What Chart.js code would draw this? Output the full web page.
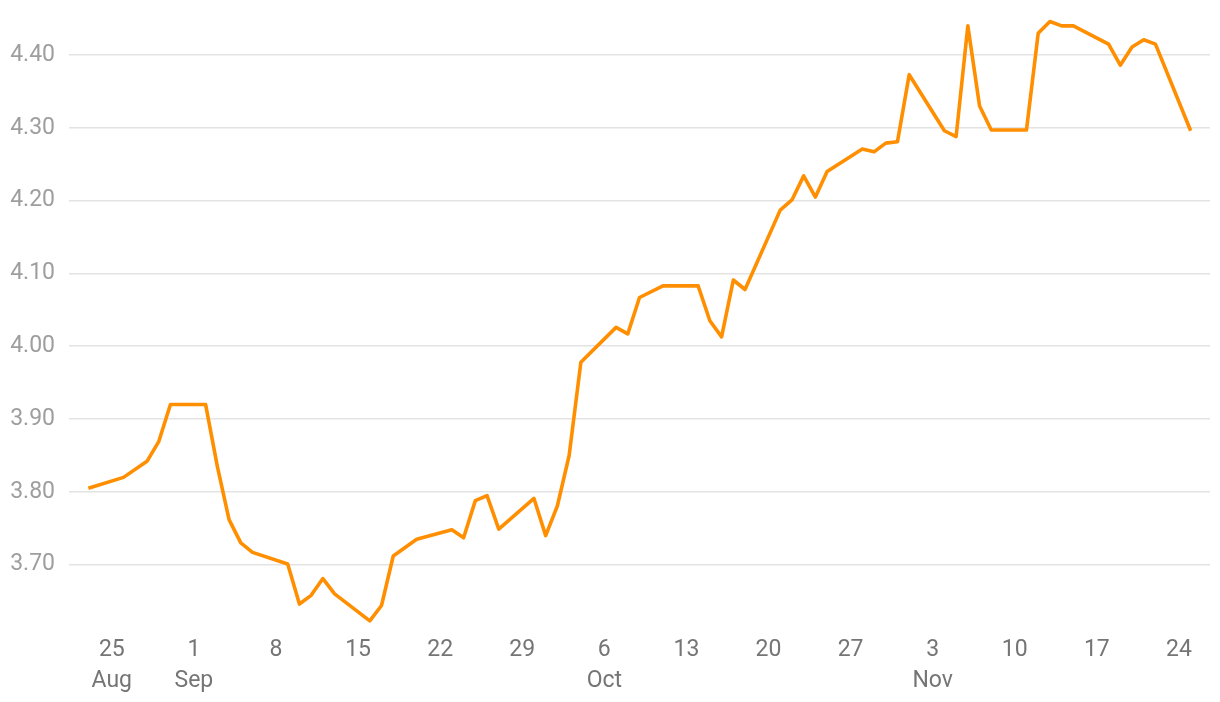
<!DOCTYPE html>
<html>
<head>
<meta charset="utf-8">
<script src="https://cdn.jsdelivr.net/npm/chart.js@4"></script>
<style>
  html, body { margin: 0; padding: 0; background: #fff; }
  #wrap { width: 1220px; height: 702px; position: relative; }
</style>
</head>
<body>
<div id="wrap"><canvas id="rate-chart"></canvas></div>
<script>
// ── Data ─────────────────────────────────────────────────────

const dates = [
  "2024-08-23", "2024-08-26", "2024-08-28", "2024-08-29", "2024-08-30",
  "2024-09-02", "2024-09-03", "2024-09-04", "2024-09-05", "2024-09-06",
  "2024-09-09", "2024-09-10", "2024-09-11", "2024-09-12", "2024-09-13",
  "2024-09-16", "2024-09-17", "2024-09-18", "2024-09-20",
  "2024-09-23", "2024-09-24", "2024-09-25", "2024-09-26", "2024-09-27",
  "2024-09-30", "2024-10-01", "2024-10-02", "2024-10-03", "2024-10-04",
  "2024-10-07", "2024-10-08", "2024-10-09", "2024-10-11",
  "2024-10-14", "2024-10-15", "2024-10-16", "2024-10-17", "2024-10-18",
  "2024-10-21", "2024-10-22", "2024-10-23", "2024-10-24", "2024-10-25",
  "2024-10-28", "2024-10-29", "2024-10-30", "2024-10-31", "2024-11-01",
  "2024-11-04", "2024-11-05", "2024-11-06", "2024-11-07", "2024-11-08",
  "2024-11-11", "2024-11-12", "2024-11-13", "2024-11-14", "2024-11-15",
  "2024-11-18", "2024-11-19", "2024-11-20", "2024-11-21", "2024-11-22",
  "2024-11-25",
];

const values = [
  3.805, 3.820, 3.842, 3.869, 3.920,
  3.920, 3.835, 3.762, 3.730, 3.717,
  3.701, 3.646, 3.658, 3.681, 3.660,
  3.623, 3.644, 3.712, 3.735,
  3.748, 3.737, 3.788, 3.795, 3.749,
  3.791, 3.740, 3.781, 3.850, 3.978,
  4.026, 4.017, 4.067, 4.083,
  4.083, 4.035, 4.013, 4.091, 4.078,
  4.187, 4.201, 4.234, 4.205, 4.240,
  4.271, 4.267, 4.279, 4.281, 4.373,
  4.296, 4.288, 4.440, 4.330, 4.297,
  4.297, 4.430, 4.446, 4.440, 4.440,
  4.415, 4.386, 4.411, 4.421, 4.415,
  4.296,
];

const xTickDates = [
  "2024-08-25", "2024-09-01", "2024-09-08", "2024-09-15", "2024-09-22",
  "2024-09-29", "2024-10-06", "2024-10-13", "2024-10-20", "2024-10-27",
  "2024-11-03", "2024-11-10", "2024-11-17", "2024-11-24",
];
const xTickLabels = [
  ["25", "Aug"], ["1", "Sep"], "8", "15", "22",
  "29", ["6", "Oct"], "13", "20", "27",
  ["3", "Nov"], "10", "17", "24",
];

const yTicks = [3.7, 3.8, 3.9, 4.0, 4.1, 4.2, 4.3, 4.4];

// ── Helpers ──────────────────────────────────────────────────

const BASE = Date.UTC(2024, 7, 25);

function dayOffset(iso) {
  const [y, m, d] = iso.split("-").map(Number);
  return (Date.UTC(y, m - 1, d) - BASE) / 86400000;
}

const tickFont = { family: "Roboto", size: 23, lineHeight: 1.33 };

// ── Chart ────────────────────────────────────────────────────

new Chart(document.getElementById("rate-chart"), {
  type: "line",
  data: {
    datasets: [
      {
        data: dates.map((d, i) => ({ x: dayOffset(d), y: values[i] })),
        borderColor: "#ff8f00",
        borderWidth: 3.6,
        borderJoinStyle: "round",
        pointRadius: 0,
        tension: 0,
        fill: false,
      },
    ],
  },
  options: {
    responsive: true,
    maintainAspectRatio: false,
    animation: false,
    layout: { padding: { top: 18.6, right: 10, left: 0, bottom: 0 } },
    scales: {
      x: {
        type: "linear",
        min: -3.65,
        max: 93.65,
        border: { display: false },
        grid: { display: false, drawTicks: false },
        afterBuildTicks: (axis) => {
          axis.ticks = xTickDates.map((d) => ({ value: dayOffset(d) }));
        },
        afterFit: (axis) => {
          axis.height = 79;
          axis.paddingLeft = 0;
          axis.paddingRight = 0;
        },
        ticks: {
          color: "#757575",
          font: tickFont,
          padding: 12,
          maxRotation: 0,
          autoSkip: false,
          callback: (v, i) => xTickLabels[i],
        },
      },
      y: {
        min: 3.62,
        max: 4.45,
        border: { display: false },
        grid: { color: "#e3e3e3", lineWidth: 1.6, drawTicks: false },
        afterBuildTicks: (axis) => {
          axis.ticks = yTicks.map((v) => ({ value: v }));
        },
        afterFit: (axis) => {
          axis.width = 69;
          axis.paddingTop = 0;
          axis.paddingBottom = 0;
        },
        ticks: {
          color: "#9e9e9e",
          font: tickFont,
          padding: 14,
          callback: (v) => v.toFixed(2),
        },
      },
    },
    plugins: {
      legend: { display: false },
      tooltip: { enabled: false },
    },
  },
});
</script>
</body>
</html>
